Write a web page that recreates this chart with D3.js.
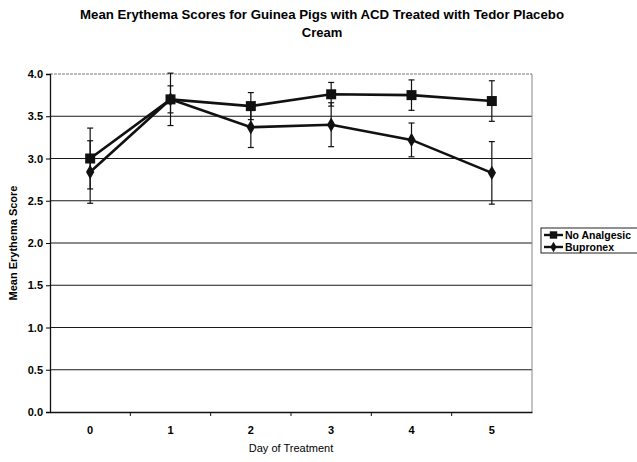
<!DOCTYPE html>
<html>
<head>
<meta charset="utf-8">
<script src="https://cdn.jsdelivr.net/npm/d3@7"></script>
<style>
  body { margin: 0; background: #fff; }
  svg { display: block; font-family: "Liberation Sans", Arial, sans-serif; }
</style>
</head>
<body>
<svg id="chart"></svg>
<script>
// chart data
const days = [0, 1, 2, 3, 4, 5];
const noAnalgesic = [3.00, 3.70, 3.62, 3.76, 3.75, 3.68];
const noAnalgesicErr = [0.36, 0.16, 0.16, 0.14, 0.18, 0.24];
const bupronex = [2.84, 3.70, 3.37, 3.40, 3.22, 2.83];
const bupronexErr = [0.37, 0.31, 0.24, 0.26, 0.20, 0.37];
const yTicks = [0, 0.5, 1, 1.5, 2, 2.5, 3, 3.5, 4];

const W = 637, H = 462;
const margin = {top: 74, right: 105, bottom: 50, left: 50};
const width = W - margin.left - margin.right;
const height = H - margin.top - margin.bottom;

const svgElem = d3.select("#chart").attr("width", W).attr("height", H);

// title, centred on the whole chart area
const title = svgElem.append("text")
    .attr("text-anchor", "middle")
    .attr("font-size", 13)
    .attr("font-weight", "bold");
title.append("tspan").attr("x", 322).attr("y", 19)
    .attr("textLength", 484).attr("lengthAdjust", "spacingAndGlyphs")
    .text("Mean Erythema Scores for Guinea Pigs with ACD Treated with Tedor Placebo");
title.append("tspan").attr("x", 322).attr("y", 37).text("Cream");

const svg = svgElem.append("g").attr("transform", `translate(${margin.left},${margin.top})`);

const xScale = d3.scaleBand().domain(days).range([0, width]);
const yScale = d3.scaleLinear().domain([0, 4]).range([height, 0]);
const xc = d => xScale(d) + xScale.bandwidth() / 2;

// horizontal grid lines
svg.selectAll("line.hgrid")
    .data(yTicks.filter(d => d > 0 && d < 4))
    .enter().append("line")
    .attr("class", "hgrid")
    .attr("x1", 0).attr("x2", width)
    .attr("y1", d => yScale(d)).attr("y2", d => yScale(d))
    .attr("stroke", "#1a1a1a").attr("stroke-width", 1.2);

// top and right border of plot area
svg.append("line")
    .attr("x1", 0).attr("x2", width).attr("y1", yScale(4)).attr("y2", yScale(4))
    .attr("stroke", "#777").attr("stroke-width", 1).attr("stroke-dasharray", "3,1");
svg.append("line")
    .attr("x1", width).attr("x2", width).attr("y1", yScale(4)).attr("y2", height)
    .attr("stroke", "#888").attr("stroke-width", 1);

// y axis
const yAxis = d3.axisLeft(yScale).tickValues(yTicks).tickFormat(d3.format(".1f")).tickSize(4).tickPadding(3);
svg.append("g")
    .call(yAxis)
    .call(g => g.select(".domain").attr("stroke", "#111").attr("stroke-width", 1.3))
    .call(g => g.selectAll("text").attr("font-size", 11).attr("font-weight", "bold").attr("fill", "#000")
        .attr("font-family", "Liberation Sans, Arial, sans-serif"));

// x axis: ticks between categories
const xAxis = d3.axisBottom(xScale).tickSize(0).tickPadding(14);
const xg = svg.append("g").attr("transform", `translate(0,${height})`).call(xAxis);
xg.select(".domain").attr("stroke", "#111").attr("stroke-width", 1.3);
xg.selectAll("text").attr("font-size", 11).attr("font-weight", "bold").attr("fill", "#000")
    .attr("font-family", "Liberation Sans, Arial, sans-serif");
xg.selectAll("line.between")
    .data(days.slice(1))
    .enter().append("line")
    .attr("class", "between")
    .attr("x1", d => xScale(d)).attr("x2", d => xScale(d))
    .attr("y1", 0).attr("y2", 4)
    .attr("stroke", "#111");

// axis titles
svgElem.append("text")
    .attr("x", margin.left + width / 2).attr("y", H - 10)
    .attr("text-anchor", "middle").attr("font-size", 11)
    .text("Day of Treatment");
svgElem.append("text")
    .attr("transform", `translate(17,${margin.top + height / 2}) rotate(-90)`)
    .attr("text-anchor", "middle").attr("font-size", 11).attr("font-weight", "bold")
    .text("Mean Erythema Score");

const series = [
    {name: "No Analgesic", values: noAnalgesic, err: noAnalgesicErr, marker: d3.symbolSquare, size: 100},
    {name: "Bupronex", values: bupronex, err: bupronexErr, marker: d3.symbolDiamond, size: 60}
];

const line = d3.line().x((d, i) => xc(days[i])).y(d => yScale(d));

series.forEach(s => {
    const g = svg.append("g");
    // error bars
    const eb = g.selectAll("g.err").data(s.values).enter().append("g").attr("class", "err");
    eb.append("line")
        .attr("x1", (d, i) => xc(days[i])).attr("x2", (d, i) => xc(days[i]))
        .attr("y1", (d, i) => yScale(d + s.err[i])).attr("y2", (d, i) => yScale(d - s.err[i]))
        .attr("stroke", "#111").attr("stroke-width", 1.2);
    [1, -1].forEach(sign => {
        eb.append("line")
            .attr("x1", (d, i) => xc(days[i]) - 3).attr("x2", (d, i) => xc(days[i]) + 3)
            .attr("y1", (d, i) => yScale(d + sign * s.err[i])).attr("y2", (d, i) => yScale(d + sign * s.err[i]))
            .attr("stroke", "#111").attr("stroke-width", 1.2);
    });
    g.append("path").datum(s.values).attr("d", line)
        .attr("fill", "none").attr("stroke", "#111").attr("stroke-width", 2.6);
    g.selectAll("path.pt").data(s.values).enter().append("path")
        .attr("class", "pt")
        .attr("d", d3.symbol().type(s.marker).size(s.size))
        .attr("transform", (d, i) => `translate(${xc(days[i])},${yScale(d)})`)
        .attr("fill", "#111");
});

// legend
const lg = svgElem.append("g").attr("transform", "translate(541,228)");
lg.append("rect").attr("width", 110).attr("height", 25)
    .attr("fill", "#fff").attr("stroke", "#222").attr("stroke-width", 1);
series.forEach((s, i) => {
    const y = 7 + i * 12;
    lg.append("line").attr("x1", 3).attr("x2", 22).attr("y1", y).attr("y2", y)
        .attr("stroke", "#111").attr("stroke-width", 2.4);
    lg.append("path").attr("d", d3.symbol().type(s.marker).size(s.size * 0.55))
        .attr("transform", `translate(12.5,${y})`).attr("fill", "#111");
    lg.append("text").attr("x", 24).attr("y", y + 4).attr("font-size", 10.5).attr("font-weight", "bold")
        .text(s.name);
});
</script>
</body>
</html>
